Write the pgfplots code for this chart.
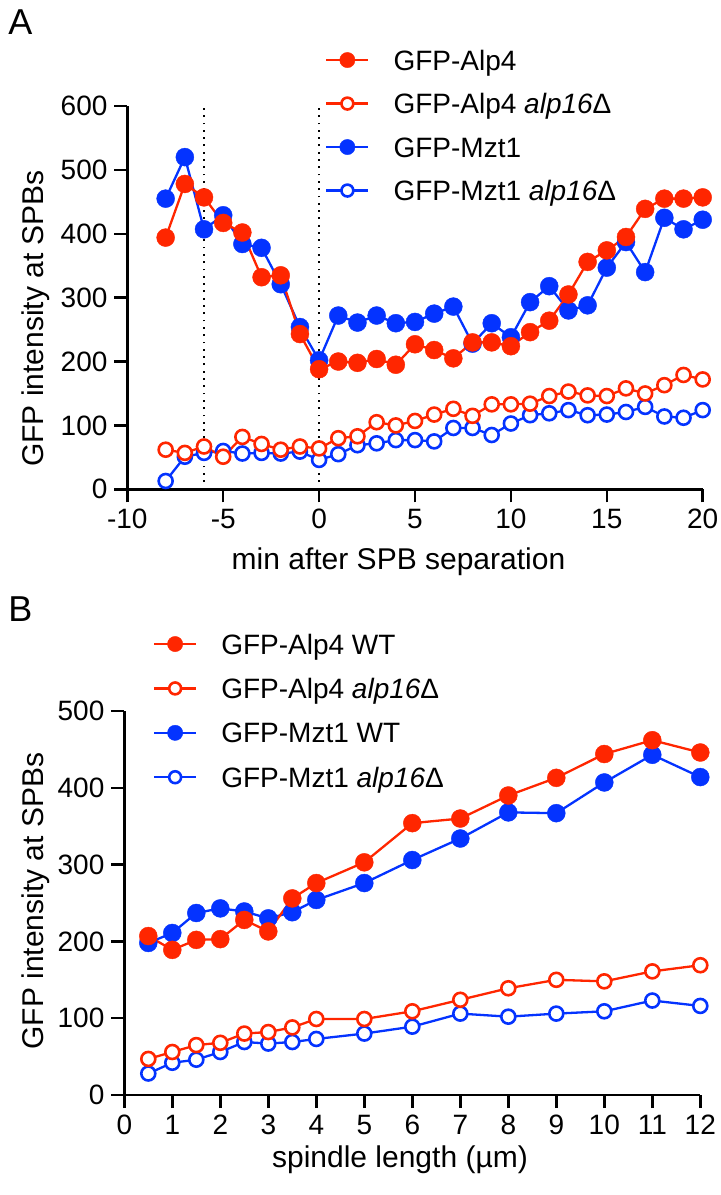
\documentclass[border=0pt]{standalone}
\usepackage{fontspec}
\setmainfont{Liberation Sans}
\usepackage{pgfplots}
\pgfplotsset{compat=1.18}
\definecolor{gpred}{RGB}{255,38,0}
\definecolor{gpblue}{RGB}{4,51,255}

\pgfplotsset{
  gpaxis/.style={
    scale only axis,
    axis lines=left,
    axis line style={-, line width=1.25pt},
    tick align=outside,
    major tick length=6.5pt,
    every tick/.style={black, line width=1.25pt},
    tick label style={font=\fontsize{14}{16}\selectfont},
    yticklabel style={inner xsep=3.25pt},
    label style={font=\fontsize{15}{18}\selectfont},
    /pgf/number format/assume math mode=true,
    clip=false,
    legend cell align=left,
    reverse legend,
    legend style={draw=none, fill=none, inner sep=0pt, outer sep=0pt,
      font=\fontsize{14}{16}\selectfont,
      nodes={inner sep=0pt, text height=10pt, text depth=0pt},
      /tikz/every odd column/.append style={column sep=12pt}},
    legend image code/.code={
      \draw[mark repeat=2, mark phase=2, #1, every mark/.append style={scale=0.85}]
        plot coordinates {(0pt,0pt) (10.5pt,0pt) (21pt,0pt)};
    },
  },
  fred/.style={gpred, line width=1.15pt, mark=*, mark size=4.5pt,
    mark options={solid, fill=gpred, draw=gpred, line width=0.2pt}},
  fblue/.style={gpblue, line width=1.15pt, mark=*, mark size=4.5pt,
    mark options={solid, fill=gpblue, draw=gpblue, line width=0.2pt}},
  ored/.style={gpred, line width=1.15pt, mark=*, mark size=3.5pt,
    mark options={solid, fill=white, draw=gpred, line width=1.3pt}},
  oblue/.style={gpblue, line width=1.15pt, mark=*, mark size=3.5pt,
    mark options={solid, fill=white, draw=gpblue, line width=1.3pt}},
}

\begin{document}
\begin{tikzpicture}
\useasboundingbox (0pt,0pt) rectangle (360pt,-597.5pt);

\node[anchor=base west, inner sep=0pt, font=\fontsize{18}{21}\selectfont] at (4pt,-17pt) {A};
\node[anchor=base west, inner sep=0pt, font=\fontsize{18}{21}\selectfont] at (4pt,-310.5pt) {B};

% panel A
\begin{axis}[gpaxis,
  at={(63.65pt,-244.65pt)}, anchor=south west,
  width=287.7pt, height=191.65pt,
  xmin=-10, xmax=20, ymin=0, ymax=600,
  xtick={-10,-5,0,5,10,15,20},
  ytick={0,100,200,300,400,500,600},
  xlabel={min after SPB separation},
  ylabel={GFP intensity at SPBs},
  xlabel style={at={(axis description cs:0.4713,-0.2105)}, anchor=base},
  ylabel style={at={(axis description cs:-0.1465,0.4456)}, anchor=base},
  legend style={at={(axis description cs:0.344,1.146)}, anchor=north west, row sep=11.75pt},
]
\addplot[black, line width=0.9pt, dash pattern=on 0.9pt off 2.75pt, forget plot] coordinates {(-6,0) (-6,600)};
\addplot[black, line width=0.9pt, dash pattern=on 0.9pt off 2.75pt, forget plot] coordinates {(0,0) (0,600)};

\addplot[oblue] coordinates {
(-8,13) (-7,51) (-6,57) (-5,60) (-4,56) (-3,57) (-2,56) (-1,59) (0,46) (1,55)
(2,69) (3,72) (4,77) (5,77) (6,75) (7,96) (8,96) (9,85) (10,103) (11,116)
(12,119) (13,124) (14,116) (15,117) (16,121) (17,129) (18,114) (19,112) (20,124)};
\addlegendentry{GFP-Mzt1 \textit{alp16}Δ}
\addplot[fblue] coordinates {
(-8,455) (-7,520) (-6,407) (-5,429) (-4,384) (-3,378) (-2,321) (-1,254) (0,202) (1,272)
(2,261) (3,272) (4,260) (5,262) (6,275) (7,286) (8,228) (9,260) (10,238) (11,293)
(12,318) (13,280) (14,288) (15,347) (16,387) (17,340) (18,425) (19,407) (20,422)};
\addlegendentry{GFP-Mzt1}
\addplot[ored] coordinates {
(-8,62) (-7,57) (-6,67) (-5,51) (-4,82) (-3,71) (-2,62) (-1,67) (0,64) (1,80)
(2,83) (3,105) (4,100) (5,107) (6,117) (7,126) (8,115) (9,133) (10,133) (11,134)
(12,146) (13,153) (14,147) (15,146) (16,158) (17,150) (18,163) (19,179) (20,172)};
\addlegendentry{GFP-Alp4 \textit{alp16}Δ}
\addplot[fred] coordinates {
(-8,394) (-7,478) (-6,457) (-5,417) (-4,402) (-3,332) (-2,335) (-1,243) (0,188) (1,200)
(2,198) (3,204) (4,195) (5,227) (6,218) (7,205) (8,230) (9,230) (10,224) (11,246)
(12,264) (13,305) (14,356) (15,374) (16,395) (17,439) (18,455) (19,455) (20,457)};
\addlegendentry{GFP-Alp4}
\end{axis}

% panel B
\begin{axis}[gpaxis,
  at={(62.15pt,-547.5pt)}, anchor=south west,
  width=288pt, height=192pt,
  xmin=0, xmax=12, ymin=0, ymax=500,
  xtick={0,1,...,12},
  ytick={0,100,200,300,400,500},
  xlabel={spindle length (µm)},
  ylabel={GFP intensity at SPBs},
  xlabel style={at={(axis description cs:0.4786,-0.19)}, anchor=base},
  ylabel style={at={(axis description cs:-0.141,0.505)}, anchor=base},
  legend style={at={(axis description cs:0.0498,1.2005)}, anchor=north west, row sep=12.2pt},
]
\addplot[oblue] coordinates {
(0.5,28) (1,42) (1.5,46) (2,56) (2.5,69) (3,67) (3.5,69) (4,73)
(5,80) (6,89) (7,106) (8,102) (9,106) (10,109) (11,123) (12,116)};
\addlegendentry{GFP-Mzt1 \textit{alp16}Δ}
\addplot[fblue] coordinates {
(0.5,198) (1,211) (1.5,237) (2,243) (2.5,239) (3,230) (3.5,238) (4,254)
(5,276) (6,306) (7,334) (8,368) (9,367) (10,407) (11,443) (12,414)};
\addlegendentry{GFP-Mzt1 WT}
\addplot[ored] coordinates {
(0.5,47) (1,56) (1.5,65) (2,68) (2.5,80) (3,82) (3.5,88) (4,99)
(5,99) (6,109) (7,124) (8,139) (9,150) (10,148) (11,161) (12,169)};
\addlegendentry{GFP-Alp4 \textit{alp16}Δ}
\addplot[fred] coordinates {
(0.5,207) (1,189) (1.5,202) (2,203) (2.5,228) (3,213) (3.5,256) (4,276)
(5,303) (6,354) (7,360) (8,390) (9,413) (10,444) (11,462) (12,446)};
\addlegendentry{GFP-Alp4 WT}
\end{axis}
\end{tikzpicture}
\end{document}
